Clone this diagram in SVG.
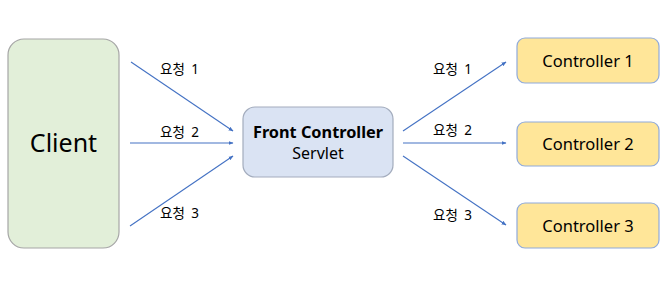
<svg xmlns="http://www.w3.org/2000/svg" width="667" height="286" viewBox="0 0 667 286">
<defs>
<marker id="ah" viewBox="0 0 10 10" refX="9" refY="5" markerWidth="5" markerHeight="5" orient="auto" markerUnits="userSpaceOnUse">
<path d="M0,1 L10,5 L0,9 z" fill="#4472c4"/>
</marker>
<style>
text{font-family:"Noto Sans","Noto Sans CJK KR",sans-serif;fill:#000;}
.lbl{font-size:13.5px;word-spacing:3px;}
.conn line{stroke:#4472c4;stroke-width:1.1;marker-end:url(#ah);}
.ctl rect{fill:#ffe699;stroke:#8faadc;stroke-width:1.2;}
.ctl text{font-size:16.5px;text-anchor:middle;}
</style>
</defs>
<rect width="667" height="286" fill="#fff"/>
<g id="client">
<rect x="8" y="39" width="111" height="209" rx="16" fill="#e2efd9" stroke="#a6a6a6" stroke-width="1.2"/>
<text x="63.5" y="152" font-size="25" text-anchor="middle">Client</text>
</g>
<g id="front">
<rect x="243" y="107" width="150" height="70" rx="12" fill="#dae3f3" stroke="#a3acbd" stroke-width="1.2"/>
<text x="318" y="138" font-size="16.3" font-weight="bold" text-anchor="middle">Front Controller</text>
<text x="318" y="159" font-size="16" text-anchor="middle">Servlet</text>
</g>
<g id="c1" class="ctl">
<rect x="517" y="38" width="142" height="45" rx="8"/>
<text x="588" y="66.5">Controller 1</text>
</g>
<g id="c2" class="ctl">
<rect x="517" y="122" width="142" height="44" rx="8"/>
<text x="588" y="149.5">Controller 2</text>
</g>
<g id="c3" class="ctl">
<rect x="517" y="203" width="142" height="45" rx="8"/>
<text x="588" y="231.5">Controller 3</text>
</g>
<g id="connectors" class="conn">
<line x1="131" y1="62" x2="233" y2="131"/>
<line x1="130" y1="143" x2="233" y2="143"/>
<line x1="130" y1="226" x2="233" y2="156"/>
<line x1="403" y1="131" x2="506" y2="62"/>
<line x1="403" y1="143" x2="506" y2="143"/>
<line x1="403" y1="156" x2="506" y2="225"/>
</g>
<g id="labels">
<text class="lbl" x="160" y="74">요청 1</text>
<text class="lbl" x="160" y="137">요청 2</text>
<text class="lbl" x="160" y="218">요청 3</text>
<text class="lbl" x="433" y="74">요청 1</text>
<text class="lbl" x="433" y="135">요청 2</text>
<text class="lbl" x="433" y="220">요청 3</text>
</g>
</svg>
